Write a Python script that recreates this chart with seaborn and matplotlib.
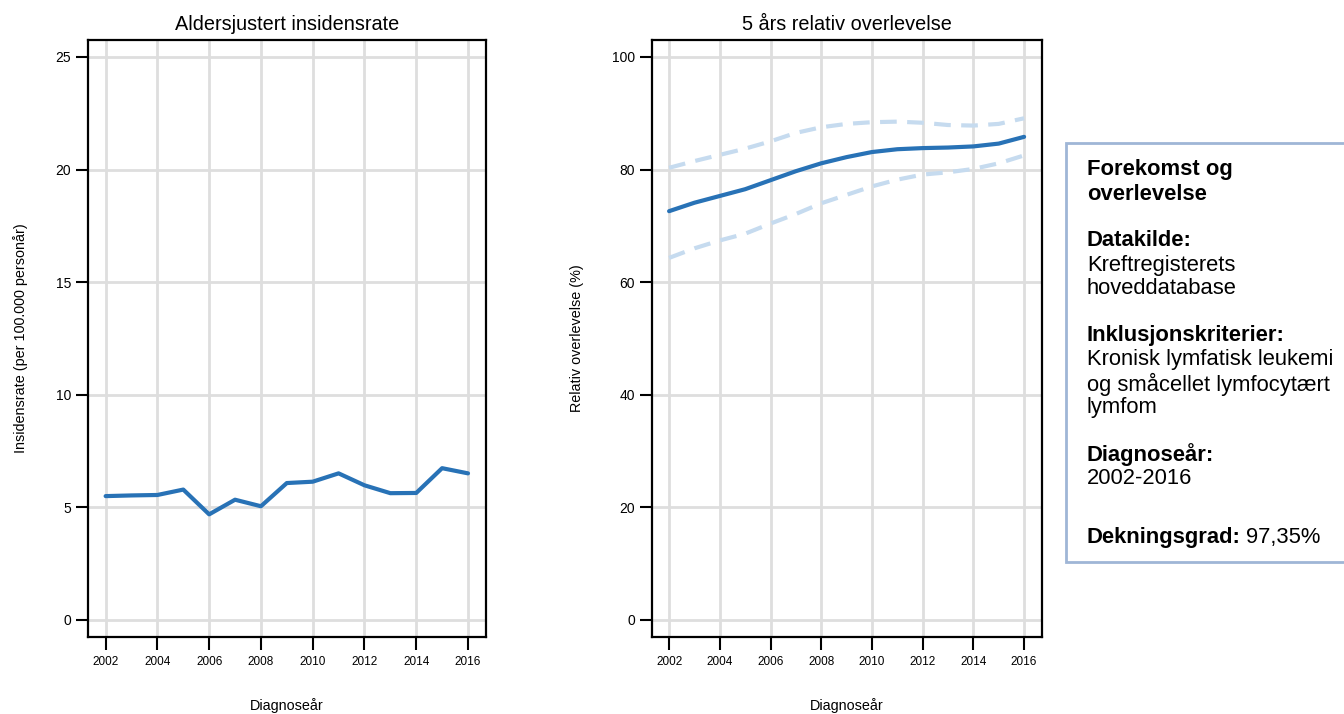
import numpy as np
import pandas as pd
import matplotlib.pyplot as plt
from matplotlib.patches import Rectangle
import seaborn as sns

# Data lest av figuren
aar = list(range(2002, 2017))
insidens = [5.50, 5.53, 5.55, 5.79, 4.69, 5.34, 5.05, 6.08, 6.14, 6.51, 5.98, 5.63, 5.64, 6.74, 6.51]
overlevelse = [72.6, 74.1, 75.3, 76.5, 78.1, 79.7, 81.1, 82.2, 83.1, 83.6, 83.8, 83.9, 84.1, 84.6, 85.8]
ki_ovre = [80.3, 81.5, 82.6, 83.7, 85.0, 86.5, 87.5, 88.1, 88.4, 88.5, 88.3, 87.9, 87.8, 88.1, 89.1]
ki_nedre = [64.3, 66.0, 67.4, 68.6, 70.4, 72.1, 74.0, 75.5, 77.0, 78.2, 79.1, 79.5, 80.1, 81.1, 82.5]

x_ticks = list(range(2002, 2017, 2))

df_ins = pd.DataFrame({'aar': aar, 'rate': insidens})
df_ovl = pd.DataFrame({'aar': aar, 'rs': overlevelse, 'ovre': ki_ovre, 'nedre': ki_nedre})

sns.set_style('white')
plt.rcParams['font.family'] = ['Liberation Sans', 'DejaVu Sans']
plt.rcParams['text.color'] = 'black'
plt.rcParams['axes.labelcolor'] = 'black'
plt.rcParams['xtick.color'] = 'black'
plt.rcParams['ytick.color'] = 'black'

blaa = '#2872b6'
lysblaa = '#c6dbef'
grid_farge = '#dedede'

fig = plt.figure(figsize=(13.44, 7.14), dpi=100)
ax1 = fig.add_axes([0.0655, 0.108, 0.296, 0.836])
ax2 = fig.add_axes([0.485, 0.108, 0.290, 0.836])


def stil(ax, yticks, ylim):
    ax.set_xlim(2001.32, 2016.69)
    ax.set_ylim(*ylim)
    ax.set_xticks(x_ticks)
    ax.set_yticks(yticks)
    for t in x_ticks:
        ax.axvline(t, color=grid_farge, lw=2, zorder=0)
    for t in yticks:
        ax.axhline(t, color=grid_farge, lw=2, zorder=0)
    for s in ax.spines.values():
        s.set_visible(True)
        s.set_color('black')
        s.set_linewidth(1.6)
    ax.tick_params(axis='both', direction='out', length=9, width=1.5, color='black',
                   left=True, bottom=True)
    ax.tick_params(axis='x', labelsize=8.5, pad=5)
    ax.tick_params(axis='y', labelsize=10, pad=3)
    ax.set_xlabel('Diagnoseår', fontsize=10.4, va='center')
    ax.xaxis.set_label_coords(0.5, -0.1155)


sns.lineplot(data=df_ins, x='aar', y='rate', ax=ax1, color=blaa, lw=3)
stil(ax1, [0, 5, 10, 15, 20, 25], (-0.75, 25.75))
ax1.set_title('Aldersjustert insidensrate', fontsize=14.3, pad=7)
ax1.set_ylabel('Insidensrate (per 100.000 personår)', fontsize=10.4, va='center')
ax1.yaxis.set_label_coords((20 - 88) / 398, 0.5)

sns.lineplot(data=df_ovl, x='aar', y='ovre', ax=ax2, color=lysblaa, lw=3, linestyle=(0, (4, 2.5)))
sns.lineplot(data=df_ovl, x='aar', y='nedre', ax=ax2, color=lysblaa, lw=3, linestyle=(0, (4, 2.5)))
sns.lineplot(data=df_ovl, x='aar', y='rs', ax=ax2, color=blaa, lw=3)
stil(ax2, [0, 20, 40, 60, 80, 100], (-3, 103))
ax2.set_title('5 års relativ overlevelse', fontsize=14.3, pad=7)
ax2.set_ylabel('Relativ overlevelse (%)', fontsize=10.4, va='center')
ax2.yaxis.set_label_coords((577 - 652) / 390, 0.5)

# Infoboks
fig.patches.append(Rectangle((0.7935, 0.213), 0.25, 0.587, transform=fig.transFigure,
                             facecolor='white', edgecolor='#9fb6d6', lw=2, zorder=0))
fs = 15.8
linjer = [
    (170, 'Forekomst og', True),
    (194, 'overlevelse', True),
    (241, 'Datakilde:', True),
    (265, 'Kreftregisterets', False),
    (289, 'hoveddatabase', False),
    (336, 'Inklusjonskriterier:', True),
    (360, 'Kronisk lymfatisk leukemi', False),
    (384, 'og småcellet lymfocytært', False),
    (408, 'lymfom', False),
    (455, 'Diagnoseår:', True),
    (479, '2002-2016', False),
]
for y, tekst, fet in linjer:
    fig.text(1087 / 1344, 1 - y / 714, tekst, fontsize=fs, va='center', ha='left',
             fontweight='bold' if fet else 'normal')
t = fig.text(1087 / 1344, 1 - 538 / 714, 'Dekningsgrad:', fontsize=fs, va='center',
             ha='left', fontweight='bold')
fig.canvas.draw()
bb = t.get_window_extent()
fig.text((bb.x1 + 5) / 1344, 1 - 538 / 714, '97,35%', fontsize=fs, va='center', ha='left')

fig.savefig('out.png', dpi=100)
